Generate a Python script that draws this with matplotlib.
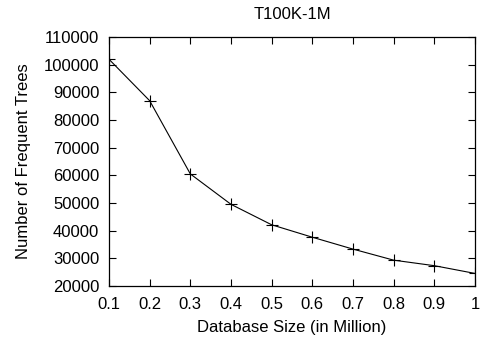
import matplotlib
matplotlib.use("Agg")
import matplotlib.pyplot as plt

# データ
db_size = [0.1, 0.2, 0.3, 0.4, 0.5, 0.6, 0.7, 0.8, 0.9, 1.0]
frequent_trees = [102000, 87000, 60500, 49500, 42100, 37600, 33300, 29300, 27300, 24500]

x_ticks = [0.1, 0.2, 0.3, 0.4, 0.5, 0.6, 0.7, 0.8, 0.9, 1.0]
x_tick_labels = ["0.1", "0.2", "0.3", "0.4", "0.5", "0.6", "0.7", "0.8", "0.9", "1"]
y_ticks = list(range(20000, 110001, 10000))

plt.rcParams['font.family'] = ['Liberation Sans', 'DejaVu Sans']

fig = plt.figure(figsize=(5.0, 3.44), dpi=100)
ax = fig.add_axes([0.218, 0.169, 0.732, 0.723])

ax.plot(db_size, frequent_trees, color='black', linewidth=0.8,
        marker='+', markersize=8, markeredgewidth=0.8)

ax.set_xlim(0.1, 1.0)
ax.set_ylim(20000, 110000)
ax.set_xticks(x_ticks)
ax.set_xticklabels(x_tick_labels)
ax.set_yticks(y_ticks)

ax.tick_params(direction='in', top=True, right=True, length=5, width=0.8,
               labelsize=12)
ax.tick_params(axis='y', pad=7)
ax.tick_params(axis='x', pad=8)
for spine in ax.spines.values():
    spine.set_linewidth(0.9)

ax.set_xlabel('Database Size (in Million)', fontsize=12, labelpad=6)
ax.set_ylabel('Number of Frequent Trees', fontsize=12, labelpad=9)
ax.set_title('T100K-1M', fontsize=12, pad=13)

fig.savefig('out.png', dpi=100)
